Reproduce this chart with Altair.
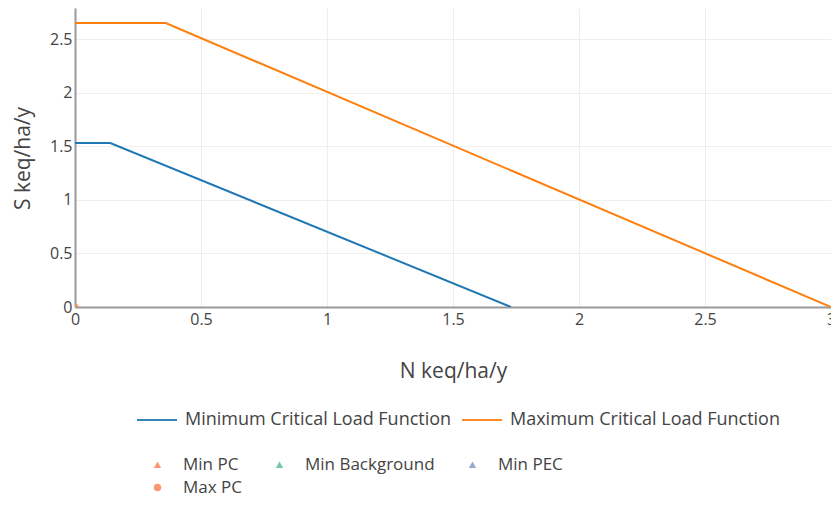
import altair as alt
import pandas as pd

# Critical load function vertices (N keq/ha/y, S keq/ha/y)
min_clf_n = [0.0, 0.14, 1.73]
min_clf_s = [1.53, 1.53, 0.0]
max_clf_n = [0.0, 0.36, 3.0]
max_clf_s = [2.65, 2.65, 0.0]
line_names = ["Minimum Critical Load Function", "Maximum Critical Load Function"]
line_colors = ["#1f77b4", "#ff7f0e"]

# Points
point_names = ["Min PC", "Min Background", "Min PEC", "Max PC"]
point_n = [0.0, 0.0, 0.0, 0.0]
point_s = [0.0, 0.0, 0.0, 0.0]
point_colors = ["#fc8d62", "#66c2a5", "#8da0cb", "#fc8d62"]
point_shapes = ["triangle-up", "triangle-up", "triangle-up", "circle"]

x_ticks = [0, 0.5, 1, 1.5, 2, 2.5, 3]
y_ticks = [0, 0.5, 1, 1.5, 2, 2.5]

rows = []
for i, (n, s) in enumerate(zip(min_clf_n, min_clf_s)):
    rows.append({"series": line_names[0], "N": n, "S": s, "order": i})
for i, (n, s) in enumerate(zip(max_clf_n, max_clf_s)):
    rows.append({"series": line_names[1], "N": n, "S": s, "order": i})
lines_df = pd.DataFrame(rows)

points_df = pd.DataFrame({"name": point_names, "N": point_n, "S": point_s})

FONT = "Open Sans"
TXT = "#444444"

x_enc = alt.X("N:Q", scale=alt.Scale(domain=[0, 3], nice=False, zero=False),
              axis=alt.Axis(title="N keq/ha/y", values=x_ticks, format="~g",
                            titlePadding=33, labelFlush=False))
y_enc = alt.Y("S:Q", scale=alt.Scale(domain=[0, 2.79], nice=False, zero=False),
              axis=alt.Axis(title="S keq/ha/y", values=y_ticks, format="~g",
                            titleX=-52, titleY=150, titleBaseline="middle"))

lines = alt.Chart(lines_df).mark_line(strokeWidth=2, clip=True).encode(
    x=x_enc,
    y=y_enc,
    order="order:Q",
    color=alt.Color("series:N",
                    scale=alt.Scale(domain=line_names, range=line_colors),
                    legend=alt.Legend(title=None, orient="none", direction="horizontal",
                                      legendX=61, legendY=391,
                                      symbolType="stroke", symbolSize=1600,
                                      symbolStrokeWidth=2, labelOffset=7,
                                      columnPadding=6, labelLimit=400)),
)

pt_legend = alt.Legend(title=None, orient="none", direction="horizontal", columns=3,
                       legendX=74, legendY=448,
                       symbolSize=55, labelOffset=17, labelLimit=400,
                       labelFontSize=17,
                       columnPadding=29, rowPadding=5)

points = alt.Chart(points_df).mark_point(filled=True, size=50, opacity=0.9, clip=True).encode(
    x="N:Q",
    y="S:Q",
    color=alt.Color("name:N",
                    scale=alt.Scale(domain=point_names, range=point_colors),
                    legend=pt_legend),
    shape=alt.Shape("name:N",
                    scale=alt.Scale(domain=point_names, range=point_shapes),
                    legend=pt_legend),
)

chart = alt.layer(lines, points).resolve_scale(color="independent", shape="independent").properties(
    width=756,
    height=299,
    autosize=alt.AutoSizeParams(type="none"),
    padding={"left": 67, "top": 0, "right": 0, "bottom": 191},
).configure_view(stroke=None).configure_axis(
    labelFont=FONT, titleFont=FONT, labelColor=TXT, titleColor=TXT,
    labelFontSize=16, titleFontSize=21, titleFontWeight="normal",
    domainColor="#999999", domainWidth=2, gridColor="#eeeeee", gridWidth=1,
    ticks=False, labelPadding=4, zindex=1,
).configure_axisY(labelPadding=3).configure_legend(
    labelFont=FONT, labelFontSize=18, labelColor=TXT, symbolOpacity=0.9,
)

chart.save("out.html", embed_options={"renderer": "svg", "actions": False})
